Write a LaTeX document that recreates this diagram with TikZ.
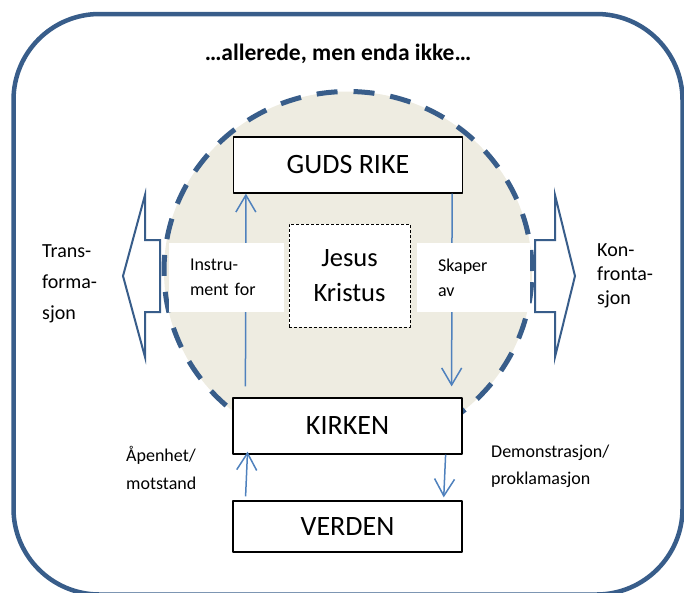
\documentclass[tikz,border=0pt]{standalone}
\usepackage{fontspec}
\setmainfont{Carlito}
\usetikzlibrary{arrows.meta}
\definecolor{randblaa}{HTML}{385D8A}
\definecolor{pilblaa}{HTML}{4F81BD}
\definecolor{beige}{HTML}{EEECE1}
\begin{document}
\begin{tikzpicture}[x=1pt,y=-1pt,line join=round,>={Straight Barb[length=17pt,width=20pt]}]
	\tikzset{every node/.style={inner sep=0pt},
		boks/.style={draw,line width=1.2pt,fill=white,minimum width=229pt,font=\fontsize{28}{32}\selectfont},
		merke/.style={fill=white,minimum height=69pt,inner xsep=21pt,align=left,font=\fontsize{18}{25}\selectfont},
		pil/.style={draw=pilblaa,line width=1.5pt,->},
		storpil/.style={draw=randblaa,line width=2pt,fill=white,line join=miter},
		tekst/.style={anchor=north west,align=left}}
	\def\cx{348}\def\cy{271}\def\rx{184pt}\def\ry{179.5pt}
	\useasboundingbox (0,0) rectangle (684,592);
	\clip (0,0) rectangle (684,592);
	\draw[randblaa,line width=4.5pt,rounded corners=86pt] (13.5,14) rectangle (682.5,594.5);
	\node[anchor=base,font=\bfseries\fontsize{23.5}{28}\selectfont] (tittel) at (338,60) {…allerede, men enda ikke…};
	\draw[storpil] (160,240)--(145,240)--(145,195)--(123,276)--(145,357)--(145,312)--(160,312)--cycle;
	\draw[storpil] (535,240)--(555,240)--(555,195)--(575,276)--(555,357)--(555,312)--(535,312)--cycle;
	\draw[randblaa,fill=beige,line width=5pt,dash pattern=on 21pt off 16pt] (\cx,\cy) ellipse[x radius=\rx,y radius=\ry];
	\node[boks,minimum height=56pt] (guds) at (348,165) {GUDS RIKE};
	\node[boks,minimum height=56pt] (kirken) at (347.5,426) {KIRKEN};
	\node[boks,minimum height=51pt] (verden) at (347.5,526.5) {VERDEN};
	\draw[pil,shorten <=11pt] ([xshift=13pt]kirken.north west) -- ([xshift=13pt]guds.south west);
	\draw[pil,shorten >=11pt] ([xshift=-11pt]guds.south east) -- ([xshift=-11pt]kirken.north east);
	\draw[pil,shorten <=4pt,shorten >=-3pt] ([xshift=13pt]verden.north west) -- ([xshift=15pt]kirken.south west);
	\draw[pil,shorten >=3pt] ([xshift=-17pt]kirken.south east) -- ([xshift=-19pt]verden.north east);
	\node[merke,text width=73pt] (instru) at (226.5,277.5) {Instru-\\ment for};
	\node[merke,text width=71pt] (skaper) at (473.5,277.5) {Skaper\\av};
	\node[draw,dash pattern=on 3pt off 2pt,line width=0.8pt,fill=white,minimum width=121pt,minimum height=103pt,align=center,font=\fontsize{26.5}{35}\selectfont] (jesus) at (349.5,275.5) {Jesus\\Kristus};
	\node[tekst,font=\fontsize{20}{31}\selectfont] (trans) at (42,244) {Trans-\\forma-\\sjon};
	\node[tekst,font=\fontsize{20}{24}\selectfont] (konf) at (597,243) {Kon-\\fronta-\\sjon};
	\node[tekst,font=\fontsize{18}{28}\selectfont] (aapen) at (126,446) {Åpenhet/\\motstand};
	\node[tekst,font=\fontsize{18}{27}\selectfont] (demo) at (491,445) {Demonstrasjon/\\proklamasjon};
\end{tikzpicture}
\end{document}
